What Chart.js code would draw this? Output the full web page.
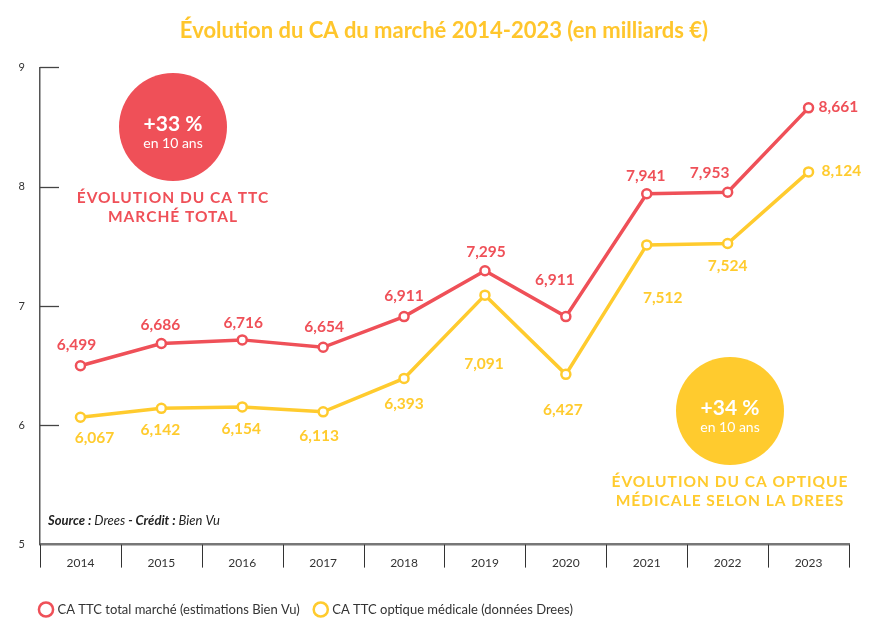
<!DOCTYPE html>
<html><head><meta charset="utf-8">
<script src="https://cdn.jsdelivr.net/npm/chart.js@4.4.1/dist/chart.umd.min.js"></script>
<style>html,body{margin:0;padding:0;background:#fff;}</style>
</head><body>
<canvas id="c" width="890" height="623" style="display:block;width:890px;height:623px"></canvas>
<script>
// ---- data ----
const years = ['2014','2015','2016','2017','2018','2019','2020','2021','2022','2023'];
const totalMarche = [6.499, 6.686, 6.716, 6.654, 6.911, 7.295, 6.911, 7.941, 7.953, 8.661];
const optiqueMedicale = [6.067, 6.142, 6.154, 6.113, 6.393, 7.091, 6.427, 7.512, 7.524, 8.124];
const yTickValues = [5, 6, 7, 8, 9];
const seriesNames = ['CA TTC total marché (estimations Bien Vu)', 'CA TTC optique médicale (données Drees)'];
const chartTitle = 'Évolution du CA du marché 2014-2023 (en milliards €)';
const badgeTotal = ['+33 %', 'en 10 ans'];
const badgeOptique = ['+34 %', 'en 10 ans'];
const captionTotal = ['ÉVOLUTION DU CA TTC', 'MARCHÉ TOTAL'];
const captionOptique = ['ÉVOLUTION DU CA OPTIQUE', 'MÉDICALE SELON LA DREES'];

// ---- styling / layout ----
const RED = '#EF5058';
const YELLOW = '#FFCB2E';
const FONT = 'Lato, "Open Sans", sans-serif';
// label offsets [dx, dy] per point (layout only); last one is left-aligned to the right of the point
const redLabelOffsets = [[-4,-21],[-1,-18],[1,-17],[1,-20],[0,-21],[1,-19],[-11,-37],[-1,-18],[-18,-19],[10,-1]];
const yellowLabelOffsets = [[14,21],[-1,22],[-1,22],[-4,24],[0,26],[-1,69],[-3,36],[16,53],[0,23],[13,-1]];

const fmt = v => v.toFixed(3).replace('.', ',');

const shiftPlugin = {
  id: 'shift',
  afterLayout(chart) {
    const t = chart.titleBlock; if (t) { t.left += 12; t.right += 12; }
    const l = chart.legend; if (l) { l.left += 10; l.right += 10; l.top += 3; l.bottom += 3; }
  }
};

const decorPlugin = {
  id: 'decor',
  beforeDatasetsDraw(chart) {
    const {ctx, chartArea, scales} = chart;
    const x = scales.x, y = scales.y;
    ctx.save();
    // inner y ticks
    ctx.strokeStyle = '#444'; ctx.lineWidth = 1.3;
    yTickValues.forEach(v => {
      if (v === 5) return;
      const py = Math.round(y.getPixelForValue(v)) + 0.5;
      ctx.beginPath(); ctx.moveTo(chartArea.left, py); ctx.lineTo(chartArea.left + 19, py); ctx.stroke();
    });
    // category dividers below x axis
    const half = (x.getPixelForValue(1) - x.getPixelForValue(0)) / 2;
    ctx.strokeStyle = '#333'; ctx.lineWidth = 1;
    for (let i = 0; i <= years.length; i++) {
      const px = Math.round(x.getPixelForValue(0) - half + i * 2 * half) + 0.5;
      ctx.beginPath(); ctx.moveTo(px, chartArea.bottom); ctx.lineTo(px, chartArea.bottom + 23); ctx.stroke();
    }
    // badges
    const drawBadge = (cx, cy, color, lines, caption) => {
      ctx.fillStyle = color;
      ctx.beginPath(); ctx.arc(cx, cy, 54, 0, Math.PI * 2); ctx.fill();
      ctx.fillStyle = '#fff'; ctx.textAlign = 'center'; ctx.textBaseline = 'middle';
      ctx.font = 'bold 21px ' + FONT; ctx.fillText(lines[0], cx, cy - 3);
      ctx.font = '14px ' + FONT; ctx.fillText(lines[1], cx, cy + 16);
      ctx.fillStyle = color; ctx.font = 'bold 15.5px ' + FONT;
      if ('letterSpacing' in ctx) ctx.letterSpacing = '1px';
      ctx.fillText(caption[0], cx, cy + 71);
      ctx.fillText(caption[1], cx, cy + 90);
      if ('letterSpacing' in ctx) ctx.letterSpacing = '0px';
    };
    drawBadge(173, 127, RED, badgeTotal, captionTotal);
    drawBadge(730, 411, YELLOW, badgeOptique, captionOptique);
    // source
    ctx.textAlign = 'left'; ctx.textBaseline = 'middle'; ctx.fillStyle = '#222';
    let sx = 48; const sy = 521;
    [['bold italic', 'Source :'], ['italic', ' Drees '], ['bold italic', '-'], ['bold italic', ' Crédit :'], ['italic', ' Bien Vu']].forEach(([f, t]) => {
      ctx.font = f + ' 13px ' + FONT; ctx.fillText(t, sx, sy); sx += ctx.measureText(t).width;
    });
    ctx.restore();
  },
  afterDatasetsDraw(chart) {
    const {ctx} = chart;
    ctx.save();
    ctx.font = 'bold 15.5px ' + FONT; ctx.textBaseline = 'middle';
    const sets = [[0, redLabelOffsets, RED], [1, yellowLabelOffsets, YELLOW]];
    sets.forEach(([di, offs, col]) => {
      const meta = chart.getDatasetMeta(di);
      const data = chart.data.datasets[di].data;
      ctx.fillStyle = col;
      meta.data.forEach((pt, i) => {
        const last = i === data.length - 1;
        ctx.textAlign = last ? 'left' : 'center';
        ctx.fillText(fmt(data[i]), pt.x + offs[i][0], pt.y + offs[i][1]);
      });
    });
    ctx.restore();
  }
};

new Chart(document.getElementById('c'), {
  type: 'line',
  data: {
    labels: years,
    datasets: [
      { label: seriesNames[0], data: totalMarche, borderColor: RED, backgroundColor: '#fff',
        borderWidth: 3.5, pointRadius: 4.5, pointBorderWidth: 2.5, pointBackgroundColor: '#fff', pointBorderColor: RED, tension: 0 },
      { label: seriesNames[1], data: optiqueMedicale, borderColor: YELLOW, backgroundColor: '#fff',
        borderWidth: 3.5, pointRadius: 4.5, pointBorderWidth: 2.5, pointBackgroundColor: '#fff', pointBorderColor: YELLOW, tension: 0 }
    ]
  },
  options: {
    responsive: false, animation: false, devicePixelRatio: 1,
    layout: { padding: { left: 15, right: 41, top: 0, bottom: 0 } },
    plugins: {
      title: { display: true, text: chartTitle, color: '#FFC62C', font: { family: FONT, size: 22, weight: 'bold' }, padding: { top: 18, bottom: 23 } },
      legend: { position: 'bottom', align: 'start',
        labels: { usePointStyle: true, pointStyle: 'circle', boxWidth: 10, boxHeight: 10, padding: 16, color: '#333', font: { family: FONT, size: 13 } } },
      tooltip: { enabled: false }
    },
    scales: {
      x: { offset: true, grid: { display: false, drawTicks: false },
        border: { display: true, color: '#777', width: 2.5 },
        ticks: { color: '#333', padding: 11, font: { family: FONT, size: 12 } },
        afterFit: s => { s.height = 39.4; } },
      y: { min: 5, max: 9, grid: { display: false, drawTicks: false },
        border: { display: true, color: '#555', width: 1.5 },
        ticks: { stepSize: 1, color: '#333', padding: 15, font: { family: FONT, size: 11 } },
        afterFit: s => { s.width = 25; } }
    }
  },
  plugins: [shiftPlugin, decorPlugin]
});
</script>
</body></html>
